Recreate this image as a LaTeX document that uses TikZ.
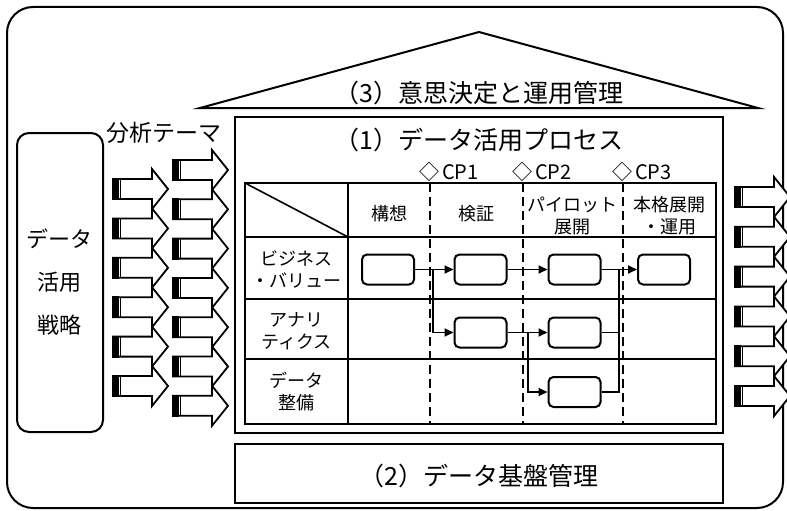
\documentclass[tikz,border=0pt]{standalone}
\usepackage{fontspec}
\setmainfont{Noto Sans CJK JP}
\usetikzlibrary{arrows.meta}
\begin{document}
\begin{tikzpicture}[x=1pt,y=-1pt,
  frame/.style={draw, line width=2pt, inner sep=0pt},
  big/.style={font=\fontsize{25}{30}\selectfont, inner sep=0pt},
  cell/.style={font=\fontsize{18}{22}\selectfont, align=center, inner sep=0pt},
  cplabel/.style={font=\fontsize{20}{24}\selectfont, inner sep=0pt, anchor=west},
  proc/.style={draw, line width=2pt, rounded corners=5pt, minimum width=52pt, minimum height=30pt, inner sep=0pt, fill=white},
  flow/.style={line width=1.8pt, -{Triangle[length=9pt,width=8pt]}},
  link/.style={line width=1.8pt},
  phase/.style={line width=1.8pt, dash pattern=on 9pt off 5pt},
  grid/.style={line width=2pt},
  blockarrow/.pic={
    \fill[white] (0,-10) -- (40,-10) -- (40,-20) -- (56,0) -- (40,20) -- (40,10) -- (0,10) -- cycle;
    \draw[line width=1.8pt, line join=miter] (0,-10) -- (40,-10) -- (40,-20) -- (56,0) -- (40,20) -- (40,10) -- (0,10);
    \fill[black] (0,-10.9) rectangle (6.5,10.9);
    \draw[line width=1.2pt] (8.7,-10) -- (8.7,10);
  }
]
\useasboundingbox (0,0) rectangle (787,511);

% outer frame
\draw[line width=2pt, rounded corners=26pt] (7,7) rectangle (783,508);

% roof
\draw[line width=2pt] (200,108) -- (479,32) -- (758,108) -- cycle;
\node[big] (roof) at (479,93) {（3）意思決定と運用管理};

% strategy box
\node[draw, line width=2pt, rounded corners=12pt, minimum width=86pt, minimum height=299pt,
      align=center, font=\fontsize{22}{43}\selectfont, inner sep=0pt] (strat) at (60,282.5) {データ\\活用\\戦略};

% analysis theme label
\node[font=\fontsize{23}{28}\selectfont, inner sep=0pt] (theme) at (163.5,132.5) {分析テーマ};

% block arrows
\foreach \i in {0,...,5} { \pic at (112,189+39.4*\i) {blockarrow}; }
\foreach \i in {0,...,6} { \pic at (172,170+39.3*\i) {blockarrow}; }
\foreach \i in {0,...,5} { \pic at (734,197+39.8*\i) {blockarrow}; }

% process box (1)
\node[frame, minimum width=488pt, minimum height=316pt] (procbox) at (479,275) {};
\node[big] (proctitle) at (479,140) {（1）データ活用プロセス};

% checkpoints
\node[cplabel] (cp1) at (419,172) {◇\hspace{3pt}CP1};
\node[cplabel] (cp2) at (512,172) {◇\hspace{3pt}CP2};
\node[cplabel] (cp3) at (612,172) {◇\hspace{3pt}CP3};

% table
\draw[line width=2.5pt] (245,183) rectangle (716,424);
\draw[grid] (348,183) -- (348,424);
\foreach \y in {237,299,359} { \draw[grid] (245,\y) -- (716,\y); }
\draw[line width=1.6pt] (245,183) -- (348,237);
\foreach \x in {430,523,623} { \draw[phase] (\x,183) -- (\x,424); }

\node[cell] (h1) at (389,214) {構想};
\node[cell] (h2) at (476.5,214) {検証};
\node[cell] (h3) at (572,216) {パイロット\\展開};
\node[cell] (h4) at (669.5,216) {本格展開\\・運用};

\node[cell] (r1) at (296.5,269) {ビジネス\\・バリュー};
\node[cell] (r2) at (296.5,331) {アナリ\\ティクス};
\node[cell] (r3) at (296.5,392) {データ\\整備};

% process steps
\node[proc] (b1) at (388,269.5) {};
\node[proc] (b2) at (480.5,269.5) {};
\node[proc] (b3) at (574.5,269.5) {};
\node[proc] (b4) at (664,269.5) {};
\node[proc] (b5) at (480.5,332.5) {};
\node[proc] (b6) at (574.5,332.5) {};
\node[proc] (b7) at (574.5,392) {};

\coordinate (j1) at (433,269.5);
\coordinate (j2) at (528,332.5);
\coordinate (j3) at (619,269.5);

\draw[flow] (b1.east) -- (b2.west);
\draw[flow] (j1) |- (b5.west);
\draw[flow] (b2.east) -- (b3.west);
\draw[flow] (b5.east) -- (b6.west);
\draw[flow] (j2) |- (b7.west);
\draw[flow] (b3.east) -- (b4.west);
\draw[link] (b6.east) -| (j3);
\draw[link] (b7.east) -| (j3);

% data platform box (2)
\node[frame, minimum width=488pt, minimum height=59pt] (basebox) at (479,473.5) {};
\node[big] (basetitle) at (479,476) {（2）データ基盤管理};
\end{tikzpicture}
\end{document}
